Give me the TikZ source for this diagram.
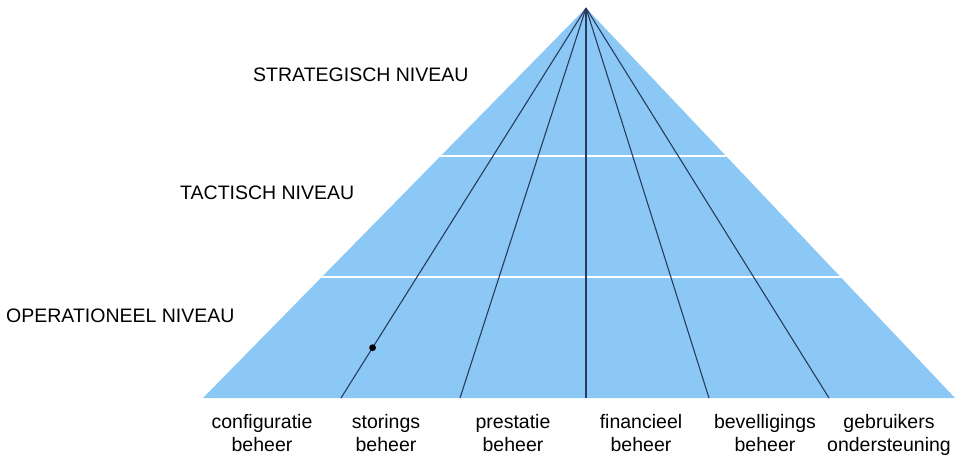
\documentclass[tikz,border=0pt]{standalone}
\usepackage{fontspec}
\setmainfont{Liberation Sans}
\usetikzlibrary{calc}
\definecolor{pyrfill}{RGB}{140,200,245}
\definecolor{pyrline}{RGB}{40,60,95}
\begin{document}
\begin{tikzpicture}[x=1pt,y=-1pt,
  levellabel/.style={anchor=west,font=\fontsize{19.5}{22}\selectfont,text=black,inner sep=0pt},
  arealabel/.style={anchor=north,align=center,font=\fontsize{19.5}{23.5}\selectfont,text=black,inner sep=0pt},
  divider/.style={draw=pyrline,line width=1.1pt},
  levelsep/.style={draw=white,line width=1.8pt}]
\useasboundingbox (0,0) rectangle (966,455);

% pyramid outline points
\coordinate (apex) at (586,8);
\coordinate (bl) at (203,398);
\coordinate (br) at (955,398);

\fill[pyrfill] (apex) -- (bl) -- (br) -- cycle;

% white level separators, clipped to the pyramid
\begin{scope}
  \clip (apex) -- (bl) -- (br) -- cycle;
  \draw[levelsep] (200,156) -- (960,156);
  \draw[levelsep] (200,277) -- (960,277);
\end{scope}

% area dividers from the apex to the base
\coordinate (b1) at (341,398);
\coordinate (b2) at (460,398);
\coordinate (b3) at (586,398);
\coordinate (b4) at (709,398);
\coordinate (b5) at (829,398);
\foreach \b in {b1,b2,b3,b4,b5} \draw[divider] (apex) -- (\b);

% dot on the second divider
\coordinate (dot) at ($(apex)!0.871!(b1)$);
\fill[black] (dot) circle (3.4);

% level names
\node[levellabel] (strat) at (253,75) {STRATEGISCH NIVEAU};
\node[levellabel] (tact) at (180,193) {TACTISCH NIVEAU};
\node[levellabel] (oper) at (6,316) {OPERATIONEEL NIVEAU};

% area names below the base
\node[arealabel] (a1) at (262,414) {configuratie\\beheer};
\node[arealabel] (a2) at (386,414) {storings\\beheer};
\node[arealabel] (a3) at (513,414) {prestatie\\beheer};
\node[arealabel] (a4) at (641,414) {financieel\\beheer};
\node[arealabel] (a5) at (765,414) {bevelligings\\beheer};
\node[arealabel] (a6) at (889,414) {gebruikers\\ondersteuning};
\end{tikzpicture}
\end{document}
